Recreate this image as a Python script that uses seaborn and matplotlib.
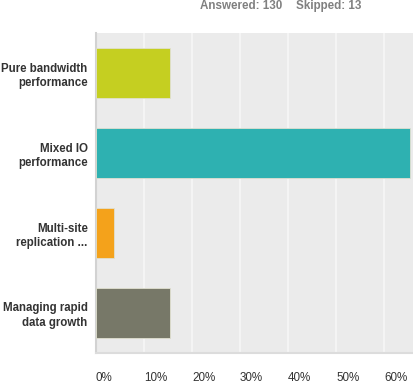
import matplotlib
matplotlib.use("Agg")
import matplotlib.pyplot as plt
import seaborn as sns
import pandas as pd

categories = ["Pure bandwidth\nperformance", "Mixed IO\nperformance",
              "Multi-site\nreplication ...", "Managing rapid\ndata growth"]
percent = [15.38, 65.38, 3.85, 15.38]
colors = ["#C5CF21", "#2EB1B1", "#F4A21B", "#777868"]
ticks = [0, 10, 20, 30, 40, 50, 60]
tick_labels = ["0%", "10%", "20%", "30%", "40%", "50%", "60%"]

df = pd.DataFrame({"answer": categories, "pct": percent})

sns.set_style("white")
plt.rcParams["font.family"] = ["Liberation Sans", "DejaVu Sans"]

fig = plt.figure(figsize=(4.14, 3.86), dpi=100)
ax = fig.add_axes([96 / 414, 33 / 386, 318 / 414, 320 / 386])
ax.set_facecolor("#EBEBEB")

sns.barplot(data=df, x="pct", y="answer", hue="answer", palette=colors,
            orient="h", width=0.625, legend=False, ax=ax, saturation=1,
            edgecolor="#E0E0D0", linewidth=0.6, zorder=3)

ax.set_xlim(0, 66.25)
ax.set_ylim(3.5, -0.5)
ax.set_xticks(ticks)
ax.set_xticklabels(tick_labels, fontsize=8.4, color="#333333", ha="left")
ax.xaxis.grid(True, color="#F7F7F7", linewidth=1.2, zorder=0)
ax.set_axisbelow(True)
ax.tick_params(axis="x", length=0, pad=14)
ax.tick_params(axis="y", length=0, pad=6)
for lab in ax.get_yticklabels():
    lab.set_fontsize(8.3)
    lab.set_fontweight("bold")
    lab.set_color("#333333")
    lab.set_linespacing(1.25)
ax.set_xlabel("")
ax.set_ylabel("")

for s in ["top", "right"]:
    ax.spines[s].set_visible(False)
ax.spines["left"].set_color("#D2D2D2")
ax.spines["left"].set_linewidth(1.5)
ax.spines["bottom"].set_color("#DCDCDC")
ax.spines["bottom"].set_linewidth(1.5)

fig.text(200 / 414, 1 - 6 / 386, "Answered: 130", fontsize=8.4, fontweight="bold",
         color="#808080", ha="left", va="center")
fig.text(296 / 414, 1 - 6 / 386, "Skipped: 13", fontsize=8.4, fontweight="bold",
         color="#808080", ha="left", va="center")

fig.savefig("out.png", dpi=100)
